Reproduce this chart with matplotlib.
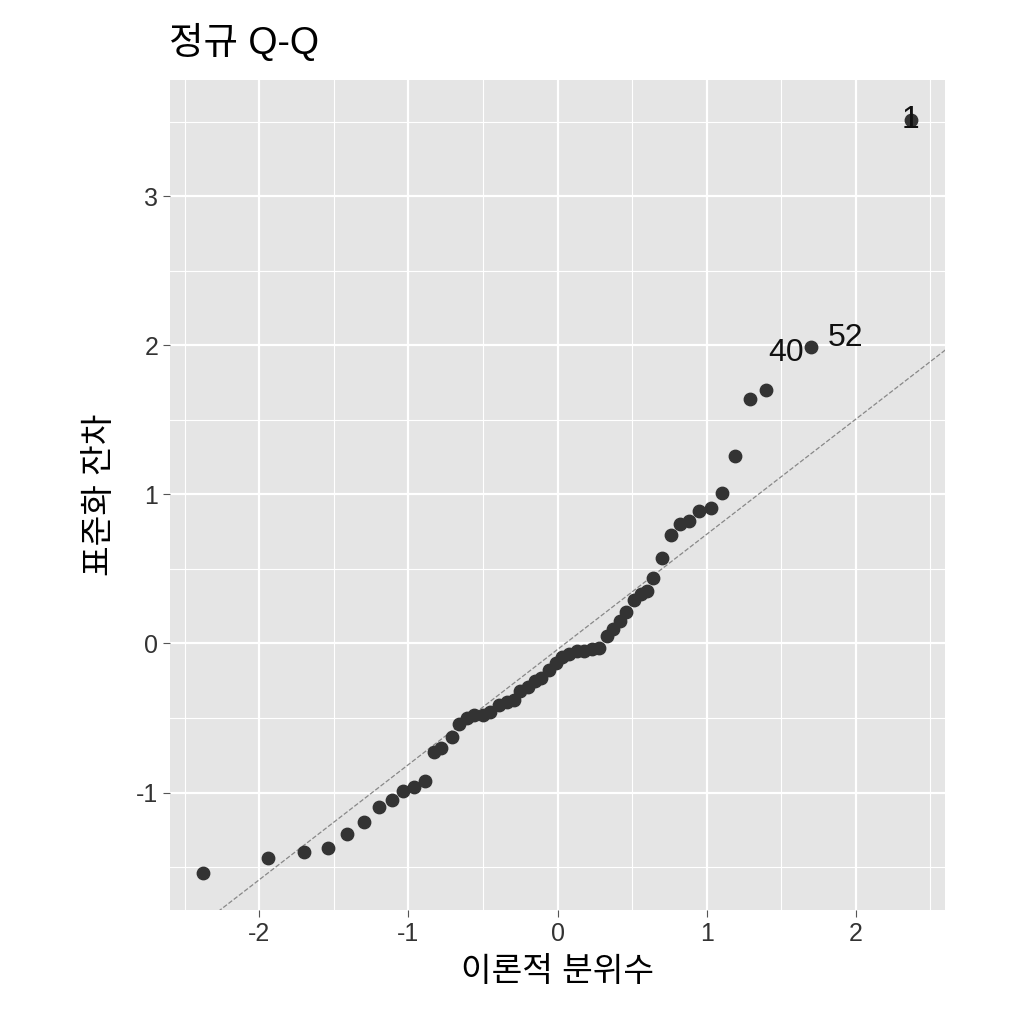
import matplotlib
matplotlib.use("Agg")
import matplotlib.pyplot as plt
import numpy as np

plt.rcParams['font.family'] = ['Liberation Sans', 'Noto Sans CJK KR', 'DejaVu Sans']

# theoretical quantiles and standardized residuals
theo = [-2.38, -1.94, -1.70, -1.54, -1.41, -1.30, -1.20, -1.11, -1.04, -0.96,
        -0.89, -0.83, -0.78, -0.71, -0.66, -0.61, -0.56, -0.50, -0.45, -0.39,
        -0.34, -0.29, -0.25, -0.20, -0.15, -0.11, -0.06, -0.01, 0.03, 0.08,
        0.13, 0.18, 0.23, 0.28, 0.33, 0.37, 0.42, 0.46, 0.51, 0.56,
        0.60, 0.64, 0.70, 0.76, 0.82, 0.88, 0.95, 1.03, 1.10, 1.19,
        1.29, 1.40, 1.70, 2.37]
resid = [-1.54, -1.44, -1.40, -1.37, -1.28, -1.20, -1.10, -1.05, -0.99, -0.96,
         -0.92, -0.73, -0.70, -0.63, -0.54, -0.50, -0.48, -0.48, -0.46, -0.41,
         -0.39, -0.38, -0.32, -0.29, -0.25, -0.23, -0.18, -0.13, -0.09, -0.07,
         -0.05, -0.05, -0.04, -0.03, 0.05, 0.10, 0.15, 0.21, 0.29, 0.33,
         0.35, 0.44, 0.57, 0.73, 0.80, 0.82, 0.89, 0.91, 1.01, 1.26,
         1.64, 1.70, 1.99, 3.51]
ref_slope = 0.772
ref_intercept = -0.04
labels = ["40", "52", "1"]
label_pos = [(1.53, 1.95), (1.93, 2.05), (2.37, 3.51)]

fig = plt.figure(figsize=(10.24, 10.24), dpi=100)
ax = fig.add_axes([0.166, 0.111, 0.757, 0.811])
ax.set_facecolor('#E5E5E5')
for s in ax.spines.values():
    s.set_visible(False)

ax.set_xlim(-2.6, 2.6)
ax.set_ylim(-1.79, 3.78)
ax.set_xticks([-2, -1, 0, 1, 2])
ax.set_xticklabels(['-2', '-1', '0', '1', '2'])
ax.set_yticks([-1, 0, 1, 2, 3])
ax.set_yticklabels(['-1', '0', '1', '2', '3'])
ax.set_xticks(np.arange(-2.5, 2.6, 1), minor=True)
ax.set_yticks(np.arange(-1.5, 3.6, 1), minor=True)
ax.grid(True, which='major', color='white', lw=1.6)
ax.grid(True, which='minor', color='white', lw=0.8)
ax.set_axisbelow(True)
ax.tick_params(which='major', colors='#333333', labelsize=18, length=5, color='#555555')
ax.tick_params(which='minor', length=0)

xs = np.array([-2.7, 2.7])
ax.plot(xs, ref_intercept + ref_slope * xs, ls='--', color='#888888', lw=0.9)
ax.scatter(theo, resid, s=80, color='#333333', zorder=3)
for t, (x, y) in zip(labels, label_pos):
    ax.text(x, y, t, fontsize=23, ha='center', va='center', color='#111111', zorder=4)

ax.set_xlabel('이론적 분위수', fontsize=24, labelpad=8)
ax.set_ylabel('표준화 잔차', fontsize=24, labelpad=14)
fig.text(0.165, 0.958, '정규 Q-Q', fontsize=27, va='center')

fig.savefig('out.png', dpi=100)
